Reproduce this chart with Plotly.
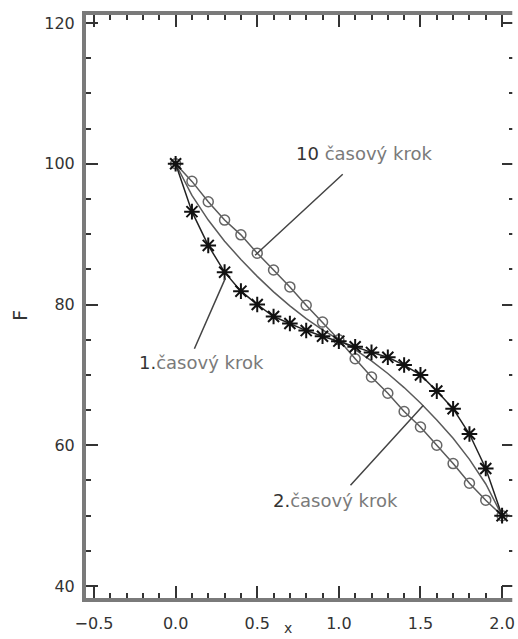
import plotly.graph_objects as go

# ---- data ----
x_vals = [0.0, 0.1, 0.2, 0.3, 0.4, 0.5, 0.6, 0.7, 0.8, 0.9, 1.0,
          1.1, 1.2, 1.3, 1.4, 1.5, 1.6, 1.7, 1.8, 1.9, 2.0]
F_step1 = [100.0, 93.2, 88.4, 84.6, 81.9, 80.0, 78.3, 77.3, 76.3, 75.5, 74.8,
           74.0, 73.2, 72.5, 71.4, 70.0, 67.7, 65.2, 61.6, 56.7, 50.0]
F_step2 = [100.0, 95.5, 92.0, 89.0, 86.4, 84.0, 81.8, 79.8, 78.0, 76.4, 75.0,
           73.6, 72.0, 70.2, 68.2, 66.0, 63.6, 61.0, 58.0, 54.5, 50.0]
F_step10 = [100.0, 97.5, 94.6, 92.0, 89.9, 87.3, 84.9, 82.5, 79.9, 77.5, 75.0,
            72.3, 69.7, 67.4, 64.8, 62.6, 60.0, 57.4, 54.6, 52.2, 50.0]

x_ticks = [-0.5, 0.0, 0.5, 1.0, 1.5, 2.0]
y_ticks = [40, 60, 80, 100, 120]

label_10 = "10 časový krok"
label_1 = "1.časový krok"
label_2 = "2.časový krok"

fig = go.Figure()

fig.add_trace(go.Scatter(
    x=x_vals, y=F_step2, mode="lines",
    line=dict(color="#5a5a5a", width=1.5), showlegend=False))
fig.add_trace(go.Scatter(
    x=x_vals, y=F_step10, mode="lines+markers",
    line=dict(color="#5a5a5a", width=1.5),
    marker=dict(symbol="circle-open", size=10, color="#666666",
                line=dict(width=1.5, color="#666666")),
    showlegend=False))
fig.add_trace(go.Scatter(
    x=x_vals, y=F_step1, mode="lines+markers",
    line=dict(color="#222222", width=1.5),
    marker=dict(symbol="asterisk-open", size=13, color="#111111",
                line=dict(width=2, color="#111111")),
    showlegend=False))

font_ann = dict(family="DejaVu Sans", size=18, color="#7a7a7a")

def lab(txt):
    # leading number dark, the rest lighter
    num = ""
    i = 0
    while i < len(txt) and (txt[i].isdigit() or txt[i] == "."):
        num += txt[i]
        i += 1
    rest = txt[i:]
    return '<span style="color:#333333">' + num + '</span>' + rest

annotations = [
    dict(x=1.154, y=101.5, text=lab(label_10), showarrow=False, font=font_ann),
    dict(x=0.16, y=71.7, text=lab(label_1), showarrow=False, font=font_ann),
    dict(x=0.98, y=52.2, text=lab(label_2), showarrow=False, font=font_ann),
    # pointer lines
    dict(x=0.487, y=87.0, ax=1.033, ay=98.7, axref="x", ayref="y", xref="x", yref="y",
         text="", showarrow=True, arrowhead=0, arrowwidth=1.5, arrowcolor="#444444"),
    dict(x=0.305, y=83.75, ax=0.111, ay=73.5, axref="x", ayref="y", xref="x", yref="y",
         text="", showarrow=True, arrowhead=0, arrowwidth=1.5, arrowcolor="#444444"),
    dict(x=1.518, y=65.7, ax=1.063, ay=54.1, axref="x", ayref="y", xref="x", yref="y",
         text="", showarrow=True, arrowhead=0, arrowwidth=1.5, arrowcolor="#444444"),
    # axis titles
    dict(x=-0.153, y=0.485, xref="paper", yref="paper", text="F", showarrow=False,
         xanchor="center", yanchor="middle", textangle=-90,
         font=dict(family="DejaVu Sans", size=19, color="#333333")),
    dict(x=0.472, y=-0.052, xref="paper", yref="paper", text="x", showarrow=False,
         xanchor="center", yanchor="middle",
         font=dict(family="DejaVu Sans", size=14, color="#333333")),
]

axis_common = dict(
    showline=True, linewidth=4, linecolor="#7a7a7a", mirror="allticks",
    ticks="inside", ticklen=12, tickwidth=2, tickcolor="#333333",
    showgrid=False, zeroline=False,
    tickfont=dict(family="DejaVu Sans", size=16, color="#333333"),
)

fig.update_layout(
    width=518, height=639,
    margin=dict(l=86, r=0, t=15, b=41),
    plot_bgcolor="white", paper_bgcolor="white",
    xaxis=dict(range=[-0.549, 2.073], tickvals=x_ticks, tickformat=".1f",
               minor=dict(dtick=0.1, ticks="inside", ticklen=5, tickwidth=2,
                          tickcolor="#333333", showgrid=False),
               ticklabelstandoff=8,
               **axis_common),
    yaxis=dict(range=[38.3, 121.14], tickvals=y_ticks,
               minor=dict(dtick=5, ticks="inside", ticklen=5, tickwidth=2,
                          tickcolor="#333333", showgrid=False),
               ticklabelstandoff=4,
               **axis_common),
    annotations=annotations,
    shapes=[dict(type="rect", xref="paper", yref="paper", x0=0.996, x1=1.05,
                 y0=-0.01, y1=1.01, fillcolor="white", line=dict(width=0),
                 layer="above")],
)

fig.write_html("out.html")
